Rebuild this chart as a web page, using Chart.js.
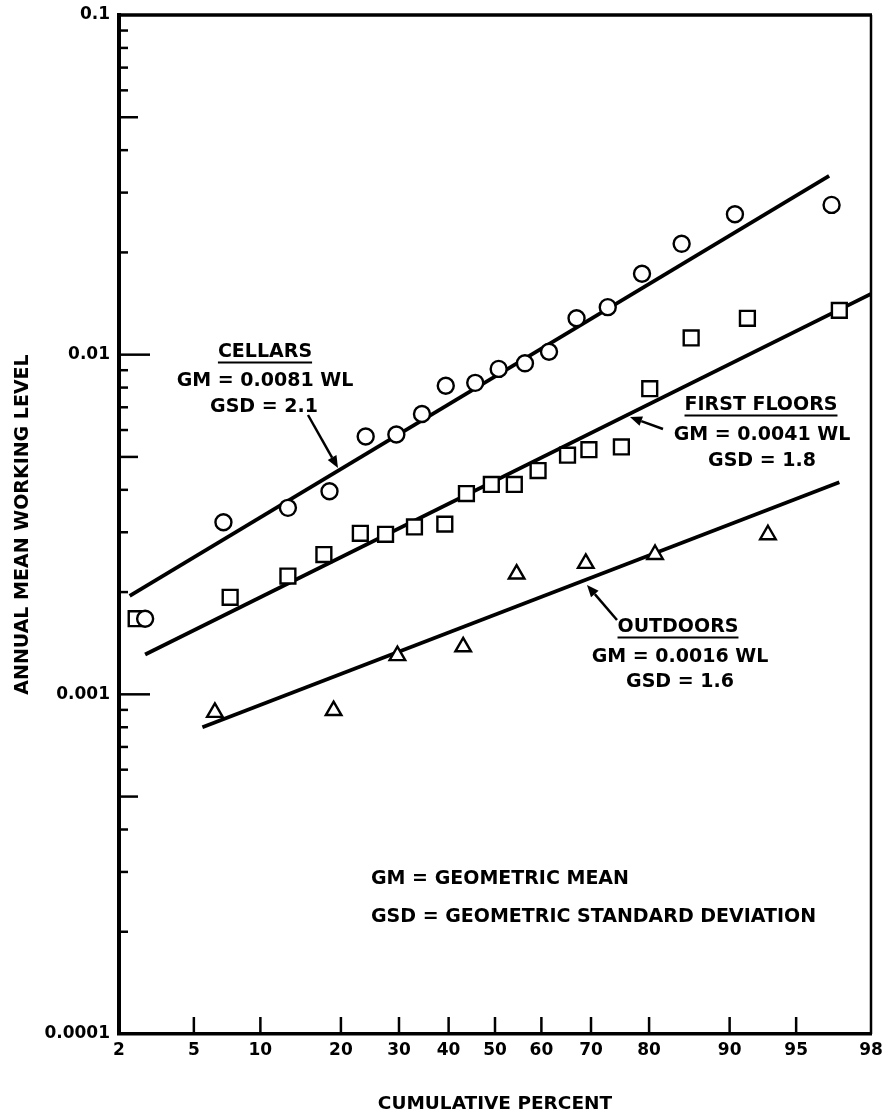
<!DOCTYPE html>
<html><head><meta charset="utf-8">
<script src="https://cdn.jsdelivr.net/npm/chart.js@4/dist/chart.umd.min.js"></script>
<style>html,body{margin:0;padding:0;background:#fff;}#wrap{width:893px;height:1116px;position:relative;}</style>
</head><body><div id="wrap"><canvas id="c" width="893" height="1116"></canvas></div>
<script>
// ---- axis ticks ----
const xTickValues = [2, 5, 10, 20, 30, 40, 50, 60, 70, 80, 90, 95, 98];
const xTickLabels = ['2', '5', '10', '20', '30', '40', '50', '60', '70', '80', '90', '95', '98'];
const yDecades = [0.0001, 0.001, 0.01, 0.1];
const yTickLabels = ['0.0001', '0.001', '0.01', '0.1'];
const yMinorMultipliers = [2, 3, 4, 5, 6, 7, 8, 9];

// ---- data: cumulative percent vs annual mean working level ----
const cellarPct = [2.8, 6.9, 12.9, 18.3, 24.0, 29.5, 34.5, 39.4, 45.7, 50.8, 56.5, 61.6, 67.2, 73.1, 78.9, 84.6, 90.5, 96.7];
const cellarWL  = [0.00167, 0.00321, 0.00354, 0.00396, 0.00574, 0.00582, 0.00669, 0.00810, 0.00826, 0.00908, 0.00943, 0.0102, 0.0128, 0.0138, 0.0173, 0.0212, 0.0259, 0.0276];

const floorPct = [2.5, 7.4, 12.9, 17.5, 23.1, 27.5, 33.0, 39.2, 43.8, 49.2, 54.2, 59.3, 65.4, 69.6, 75.5, 80.1, 85.8, 91.6, 97.0];
const floorWL  = [0.00167, 0.00193, 0.00223, 0.00258, 0.00298, 0.00296, 0.00311, 0.00317, 0.00390, 0.00415, 0.00415, 0.00456, 0.00506, 0.00525, 0.00535, 0.00794, 0.0112, 0.0128, 0.0135];

const outdoorPct = [6.3, 18.9, 29.7, 43.1, 54.7, 69.0, 80.9, 93.2];
const outdoorWL  = [0.000885, 0.000896, 0.00130, 0.00138, 0.00226, 0.00243, 0.00258, 0.00295];

// fitted lognormal lines (end points)
const cellarFitPct = [2.3, 96.6];
const cellarFitWL  = [0.00195, 0.0336];
const floorFitPct  = [2.8, 98];
const floorFitWL   = [0.00131, 0.0151];
const outdoorFitPct = [5.5, 97.0];
const outdoorFitWL  = [0.00080, 0.00421];

// ---- probability (probit) scale ----
function normInv(p){
  const a=[-3.969683028665376e+01,2.209460984245205e+02,-2.759285104469687e+02,1.383577518672690e+02,-3.066479806614716e+01,2.506628277459239e+00];
  const b=[-5.447609879822406e+01,1.615858368580409e+02,-1.556989798598866e+02,6.680131188771972e+01,-1.328068155288572e+01];
  const c=[-7.784894002430293e-03,-3.223964580411365e-01,-2.400758277161838e+00,-2.549732539343734e+00,4.374664141464968e+00,2.938163982698783e+00];
  const d=[7.784695709041462e-03,3.224671290700398e-01,2.445134137142996e+00,3.754408661907416e+00];
  const pl=0.02425, ph=1-pl; let q, r;
  if (p < pl){ q=Math.sqrt(-2*Math.log(p)); return (((((c[0]*q+c[1])*q+c[2])*q+c[3])*q+c[4])*q+c[5])/((((d[0]*q+d[1])*q+d[2])*q+d[3])*q+1); }
  if (p <= ph){ q=p-0.5; r=q*q; return (((((a[0]*r+a[1])*r+a[2])*r+a[3])*r+a[4])*r+a[5])*q/(((((b[0]*r+b[1])*r+b[2])*r+b[3])*r+b[4])*r+1); }
  q=Math.sqrt(-2*Math.log(1-p)); return -(((((c[0]*q+c[1])*q+c[2])*q+c[3])*q+c[4])*q+c[5])/((((d[0]*q+d[1])*q+d[2])*q+d[3])*q+1);
}
function normCdf(z){
  const t=1/(1+0.3275911*Math.abs(z));
  const y=1-(((((1.061405429*t-1.453152027)*t)+1.421413741)*t-0.284496736)*t+0.254829592)*t*Math.exp(-z*z/2);
  return z>=0 ? (1+y)/2 : (1-y)/2;
}
class ProbitScale extends Chart.Scale {
  determineDataLimits(){ this.min = this.options.min; this.max = this.options.max; }
  buildTicks(){ return xTickValues.map(v => ({value: v})); }
  getLabelForValue(v){ return String(v); }
  configure(){
    super.configure();
    this._zMin = normInv(this.min/100);
    this._zMax = normInv(this.max/100);
  }
  getPixelForValue(v){
    const z = normInv(v/100);
    return this.getPixelForDecimal((z - this._zMin)/(this._zMax - this._zMin));
  }
  getValueForPixel(px){
    const z = this._zMin + this.getDecimalForPixel(px)*(this._zMax - this._zMin);
    return 100*normCdf(z);
  }
  getPixelForTick(i){ return this.getPixelForValue(this.ticks[i].value); }
}
ProbitScale.id = 'probit';
ProbitScale.defaults = {};
Chart.register(ProbitScale);

const yAllTicks = [];
yDecades.forEach((d, i) => { yAllTicks.push(d); if (i < yDecades.length-1) yMinorMultipliers.forEach(m => yAllTicks.push(+(d*m).toPrecision(6))); });

const pts = (xs, ys) => xs.map((x, i) => ({x, y: ys[i]}));
const FONT = '"DejaVu Sans", sans-serif';

// inner tick marks + frame
const framePlugin = {
  id: 'frame',
  beforeDatasetsDraw(chart){
    const {ctx, chartArea: ca, scales} = chart;
    ctx.save();
    ctx.strokeStyle = '#000';
    ctx.lineCap = 'butt';
    ctx.lineWidth = 2.5;
    scales.y.ticks.forEach(t => {
      const v = t.value;
      const py = scales.y.getPixelForValue(v);
      if (py <= ca.top + 1 || py >= ca.bottom - 1) return;
      const mant = v / Math.pow(10, Math.floor(Math.log10(v) + 1e-9));
      const m = Math.round(mant);
      const len = m === 1 ? 31 : (m === 5 ? 19 : 9);
      ctx.beginPath(); ctx.moveTo(ca.left, py); ctx.lineTo(ca.left + len, py); ctx.stroke();
    });
    scales.x.ticks.forEach(t => {
      const px = scales.x.getPixelForValue(t.value);
      if (px <= ca.left + 1 || px >= ca.right - 1) return;
      ctx.beginPath(); ctx.moveTo(px, ca.bottom); ctx.lineTo(px, ca.bottom - 17); ctx.stroke();
    });
    ctx.lineWidth = 3.5;
    ctx.beginPath(); ctx.moveTo(ca.left - 2, ca.top); ctx.lineTo(ca.right + 1, ca.top); ctx.stroke();
    ctx.lineWidth = 2.5;
    ctx.beginPath(); ctx.moveTo(ca.right, ca.top); ctx.lineTo(ca.right, ca.bottom); ctx.stroke();
    ctx.restore();
  }
};

// text annotations and arrows (layout, in pixels)
const notes = [
  {t: 'CELLARS', x: 265, y: 352, u: true},
  {t: 'GM = 0.0081 WL', x: 265, y: 381},
  {t: 'GSD = 2.1', x: 264, y: 407},
  {t: 'FIRST FLOORS', x: 761, y: 405, u: true},
  {t: 'GM = 0.0041 WL', x: 762, y: 435},
  {t: 'GSD = 1.8', x: 762, y: 461},
  {t: 'OUTDOORS', x: 678, y: 627, u: true},
  {t: 'GM = 0.0016 WL', x: 680, y: 657},
  {t: 'GSD = 1.6', x: 680, y: 682},
  {t: 'GM = GEOMETRIC MEAN', x: 371, y: 879, left: true},
  {t: 'GSD = GEOMETRIC STANDARD DEVIATION', x: 371, y: 917, left: true}
];
const arrows = [
  [308, 415, 338, 468],
  [663, 429, 630, 417],
  [617, 620, 587, 585]
];
const notePlugin = {
  id: 'notes',
  afterDatasetsDraw(chart){
    const ctx = chart.ctx;
    ctx.save();
    ctx.fillStyle = '#000'; ctx.strokeStyle = '#000';
    ctx.font = 'bold 19px ' + FONT;
    ctx.textBaseline = 'middle';
    notes.forEach(n => {
      ctx.textAlign = n.left ? 'left' : 'center';
      ctx.fillText(n.t, n.x, n.y);
      if (n.u){
        const w = ctx.measureText(n.t).width;
        ctx.lineWidth = 2.2;
        ctx.beginPath(); ctx.moveTo(n.x - w/2, n.y + 10.5); ctx.lineTo(n.x + w/2, n.y + 10.5); ctx.stroke();
      }
    });
    arrows.forEach(([x1, y1, x2, y2]) => {
      const ang = Math.atan2(y2 - y1, x2 - x1);
      const hl = 12, hw = 5;
      const bx = x2 - hl*Math.cos(ang), by = y2 - hl*Math.sin(ang);
      ctx.lineWidth = 2.5;
      ctx.beginPath(); ctx.moveTo(x1, y1); ctx.lineTo(bx, by); ctx.stroke();
      ctx.beginPath();
      ctx.moveTo(x2, y2);
      ctx.lineTo(bx + hw*Math.sin(ang), by - hw*Math.cos(ang));
      ctx.lineTo(bx - hw*Math.sin(ang), by + hw*Math.cos(ang));
      ctx.closePath(); ctx.fill();
    });
    ctx.restore();
  }
};

const markerBase = {showLine: false, pointBackgroundColor: '#fff', pointBorderColor: '#000', pointBorderWidth: 2.4, pointHoverRadius: 0};
const fitBase = {showLine: true, borderColor: '#000', borderWidth: 3.8, pointRadius: 0, pointHoverRadius: 0, fill: false, order: 10};

new Chart(document.getElementById('c'), {
  type: 'scatter',
  data: {
    datasets: [
      Object.assign({label: 'Cellars', data: pts(cellarPct, cellarWL), pointStyle: 'circle', pointRadius: 8, order: 0}, markerBase),
      Object.assign({label: 'First floors', data: pts(floorPct, floorWL), pointStyle: 'rect', pointRadius: 10.5, order: 1}, markerBase),
      Object.assign({label: 'Outdoors', data: pts(outdoorPct, outdoorWL), pointStyle: 'triangle', pointRadius: 9, order: 2}, markerBase),
      Object.assign({label: 'Cellars fit', data: pts(cellarFitPct, cellarFitWL)}, fitBase),
      Object.assign({label: 'First floors fit', data: pts(floorFitPct, floorFitWL)}, fitBase),
      Object.assign({label: 'Outdoors fit', data: pts(outdoorFitPct, outdoorFitWL)}, fitBase)
    ]
  },
  options: {
    responsive: false,
    animation: false,
    events: [],
    layout: {padding: {left: 0, right: 22, top: 15, bottom: 0}},
    plugins: {legend: {display: false}, tooltip: {enabled: false}},
    scales: {
      x: {
        type: 'probit', position: 'bottom', min: 2, max: 98,
        grid: {display: false, drawTicks: false},
        border: {display: true, color: '#000', width: 3.5},
        ticks: {
          autoSkip: false, maxRotation: 0, padding: 6, color: '#000',
          font: {family: FONT, size: 17, weight: 'bold'},
          callback: (v) => { const i = xTickValues.indexOf(v); return i >= 0 ? xTickLabels[i] : ''; }
        },
        title: {display: true, text: 'CUMULATIVE PERCENT', color: '#000', font: {family: FONT, size: 18.5, weight: 'bold'}, padding: {top: 0, bottom: 1}},
        afterFit: (s) => { s.height = 82; s.paddingLeft = 0; s.paddingRight = 0; }
      },
      y: {
        type: 'logarithmic', position: 'left', min: 0.0001, max: 0.1,
        grid: {display: false, drawTicks: false},
        border: {display: true, color: '#000', width: 4},
        afterBuildTicks: (s) => { s.ticks = yAllTicks.map(v => ({value: v})); },
        ticks: {
          autoSkip: false, padding: 9, color: '#000',
          font: {family: FONT, size: 17, weight: 'bold'},
          callback: (v) => { const i = yDecades.findIndex(d => Math.abs(d - v) / d < 1e-6); return i >= 0 ? yTickLabels[i] : ''; }
        },
        title: {display: true, text: 'ANNUAL MEAN WORKING LEVEL', color: '#000', font: {family: FONT, size: 19, weight: 'bold'}, padding: {top: 12, bottom: 0}},
        afterFit: (s) => { s.width = 119; s.paddingTop = 0; s.paddingBottom = 0; }
      }
    }
  },
  plugins: [framePlugin, notePlugin]
});
</script>
</body></html>
